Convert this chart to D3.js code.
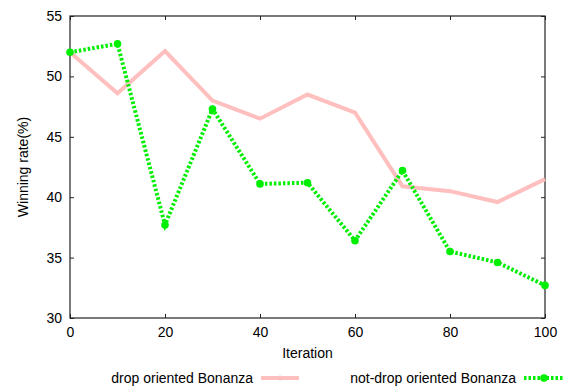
<!DOCTYPE html>
<html><head><meta charset="utf-8">
<script src="https://cdn.jsdelivr.net/npm/d3@7"></script>
<style>body{margin:0;background:#fff}text{font-family:"Liberation Sans",Arial,sans-serif}</style>
</head><body><svg id="c" width="569" height="387"></svg>
<script>
const iterations = [0,10,20,30,40,50,60,70,80,90,100];
const dropOriented = [52.0,48.6,52.1,48.0,46.5,48.5,47.0,40.9,40.5,39.6,41.5];
const notDropOriented = [52.0,52.7,37.7,47.3,41.1,41.2,36.4,42.2,35.5,34.6,32.7];
const xTicks = [0,20,40,60,80,100];
const yTicks = [30,35,40,45,50,55];
const seriesNames = ["drop oriented Bonanza","not-drop oriented Bonanza"];

const svg = d3.select("#c");
const L=70,R=545,T=16,B=318;
const x = d3.scaleLinear().domain([0,100]).range([L,R]);
const y = d3.scaleLinear().domain([30,55]).range([B,T]);
const axisColor="#222";

svg.append("rect").attr("x",L).attr("y",T).attr("width",R-L).attr("height",B-T)
  .attr("fill","none").attr("stroke",axisColor).attr("stroke-width",1.2);

const fs=14;
const ff="Liberation Sans, Arial, sans-serif";
svg.append("g").attr("transform",`translate(0,${B})`)
  .call(d3.axisBottom(x).tickValues(xTicks).tickSize(-4).tickPadding(9).tickFormat(d3.format("d")))
  .call(g=>{g.select(".domain").remove();g.selectAll("line").attr("stroke",axisColor);g.selectAll("text").attr("font-size",fs).attr("fill","#000").attr("font-family",ff);});
svg.append("g").attr("transform",`translate(0,${T})`)
  .call(d3.axisTop(x).tickValues(xTicks).tickSize(-4).tickFormat(""))
  .call(g=>{g.select(".domain").remove();g.selectAll("line").attr("stroke",axisColor);});
svg.append("g").attr("transform",`translate(${L},0)`)
  .call(d3.axisLeft(y).tickValues(yTicks).tickSize(-4).tickPadding(8).tickFormat(d3.format("d")))
  .call(g=>{g.select(".domain").remove();g.selectAll("line").attr("stroke",axisColor);g.selectAll("text").attr("font-size",fs).attr("fill","#000").attr("font-family",ff);});
svg.append("g").attr("transform",`translate(${R},0)`)
  .call(d3.axisRight(y).tickValues(yTicks).tickSize(-4).tickFormat(""))
  .call(g=>{g.select(".domain").remove();g.selectAll("line").attr("stroke",axisColor);});

svg.append("text").attr("x",(L+R)/2).attr("y",358).attr("text-anchor","middle").attr("font-size",fs).text("Iteration");
svg.append("text").attr("transform",`translate(28,${(T+B)/2}) rotate(-90)`).attr("text-anchor","middle").attr("font-size",fs).text("Winning rate(%)");

const line = d3.line().x((d,i)=>x(iterations[i])).y(d=>y(d));
const pink="#ffbfbf", green="#00ee00";

svg.append("path").datum(dropOriented).attr("d",line).attr("fill","none")
  .attr("stroke",pink).attr("stroke-width",4).attr("stroke-linejoin","miter");
svg.append("path").datum(notDropOriented).attr("d",line).attr("fill","none")
  .attr("stroke",green).attr("stroke-width",4).attr("stroke-dasharray","2.5,2");
svg.selectAll(".gp").data(notDropOriented).enter().append("circle")
  .attr("cx",(d,i)=>x(iterations[i])).attr("cy",d=>y(d)).attr("r",3.8).attr("fill",green);

const ly=378;
svg.append("text").attr("x",253).attr("y",ly+5).attr("text-anchor","end").attr("font-size",fs).text(seriesNames[0]);
svg.append("line").attr("x1",261).attr("x2",299).attr("y1",ly).attr("y2",ly).attr("stroke",pink).attr("stroke-width",4);
svg.append("circle").attr("cx",280).attr("cy",ly).attr("r",2.5).attr("fill",pink);
svg.append("text").attr("x",516).attr("y",ly+5).attr("text-anchor","end").attr("font-size",fs).text(seriesNames[1]);
svg.append("line").attr("x1",524).attr("x2",564).attr("y1",ly).attr("y2",ly).attr("stroke",green).attr("stroke-width",4).attr("stroke-dasharray","2.5,2");
svg.append("circle").attr("cx",544).attr("cy",ly).attr("r",3.8).attr("fill",green);
</script></body></html>
